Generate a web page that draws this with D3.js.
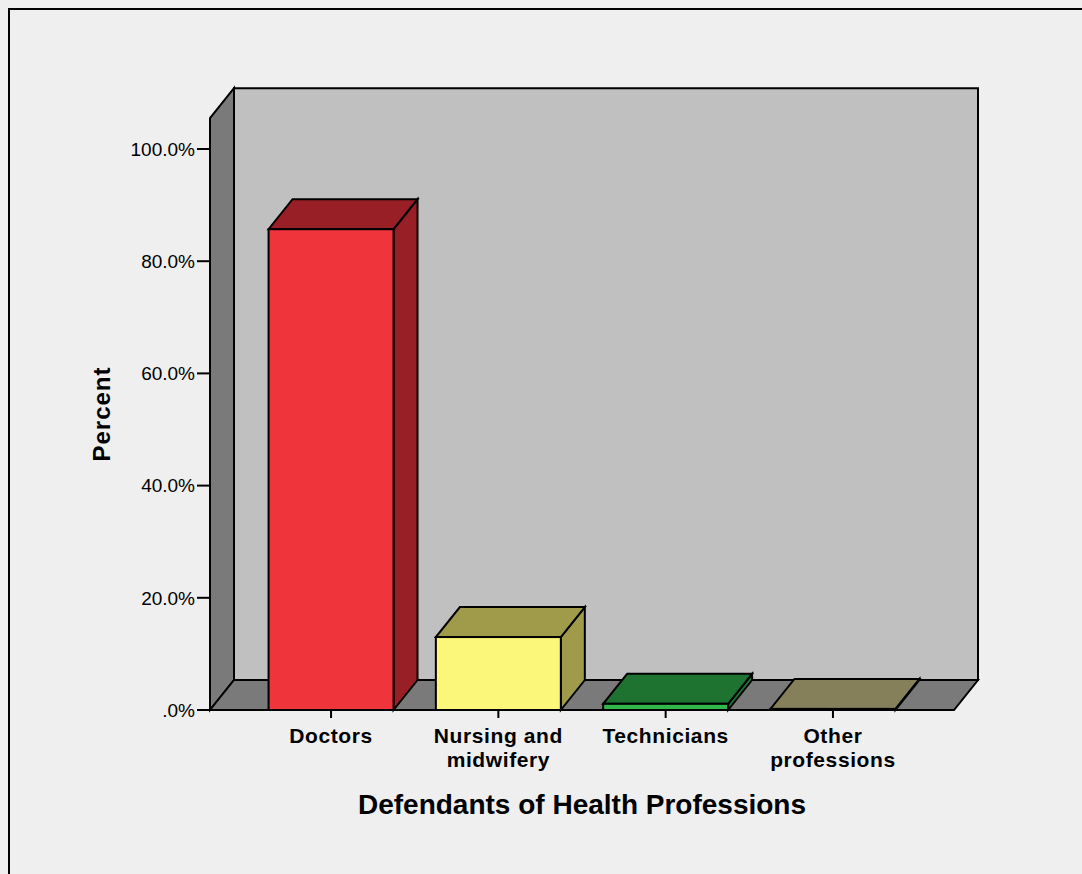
<!DOCTYPE html>
<meta charset="utf-8">
<head>
<style>
body { margin: 0; background: #efefef; }
text { font-family: "Liberation Sans", Arial, sans-serif; fill: #000; }
.tick-label { font-size: 19px; }
.cat-label { font-size: 21px; font-weight: bold; letter-spacing: 0.6px; }
.axis-title { font-weight: bold; }
</style>
</head>
<body>
<svg width="1082" height="874"></svg>

<script src="https://d3js.org/d3.v7.min.js"></script>
<script>
// chart data
const categories = ['Doctors', 'Nursing and midwifery', 'Technicians', 'Other professions'];
const categoryLines = [['Doctors'], ['Nursing and', 'midwifery'], ['Technicians'], ['Other', 'professions']];
const percents = [85.7, 13.0, 1.1, 0.2];
const frontColors = ['#f0343b', '#fbf77a', '#2fb94b', '#8a8660'];
const darkColors = ['#971f25', '#9f9b4b', '#1e7330', '#858059'];
const yTicks = [0, 20, 40, 60, 80, 100];
const yTickLabels = ['.0%', '20.0%', '40.0%', '60.0%', '80.0%', '100.0%'];

let svg = d3.select('svg');

// 3d depth offset
const dx = 24, dy = -30;
const left = 210, right = 954;

let x = d3.scaleBand()
    .domain(categories)
    .range([left, right])
    .paddingInner(0.253)
    .paddingOuter(0.35);

let y = d3.scaleLinear().domain([0, 100]).range([710, 149]);
const wallTop = 105.5;

// outer frame
svg.append('rect')
    .attr('x', 9).attr('y', 9)
    .attr('width', 1100).attr('height', 900)
    .attr('fill', '#efefef')
    .attr('stroke', '#000').attr('stroke-width', 2);

let line = d3.line();
const stroke = (sel, w) => sel.attr('stroke', '#000').attr('stroke-width', w || 2).attr('stroke-linejoin', 'miter');

// back wall
svg.append('path')
    .attr('d', line([[left + dx, y(0) + dy], [right + dx, y(0) + dy], [right + dx, y(wallTop) + dy], [left + dx, y(wallTop) + dy]]) + 'Z')
    .attr('fill', '#c0c0c0').call(stroke);

// left wall
svg.append('path')
    .attr('d', line([[left, y(0)], [left, y(wallTop)], [left + dx, y(wallTop) + dy], [left + dx, y(0) + dy]]) + 'Z')
    .attr('fill', '#7a7a7a').call(stroke);

// floor
svg.append('path')
    .attr('d', line([[left, y(0)], [right, y(0)], [right + dx, y(0) + dy], [left + dx, y(0) + dy]]) + 'Z')
    .attr('fill', '#7a7a7a').call(stroke);

// y axis ticks
let yAxis = svg.append('g');
yAxis.selectAll('line')
    .data(yTicks)
    .enter().append('line')
        .attr('x1', 197).attr('x2', left)
        .attr('y1', d => y(d)).attr('y2', d => y(d))
        .call(stroke);
yAxis.selectAll('text')
    .data(yTicks)
    .enter().append('text')
        .attr('class', 'tick-label')
        .attr('x', 195)
        .attr('y', d => y(d))
        .attr('dy', '0.36em')
        .attr('text-anchor', 'end')
        .text((d, i) => yTickLabels[i]);

// bars
let bars = svg.selectAll('.bar')
    .data(categories)
    .enter().append('g')
        .attr('class', 'bar');

bars.each(function(c, i) {
    let g = d3.select(this);
    let x0 = x(c), x1 = x(c) + x.bandwidth();
    let y0 = y(0), y1 = y(percents[i]);
    // right side
    g.append('path')
        .attr('d', line([[x1, y0], [x1, y1], [x1 + dx, y1 + dy], [x1 + dx, y0 + dy]]) + 'Z')
        .attr('fill', darkColors[i]).call(stroke);
    // top
    g.append('path')
        .attr('d', line([[x0, y1], [x1, y1], [x1 + dx, y1 + dy], [x0 + dx, y1 + dy]]) + 'Z')
        .attr('fill', darkColors[i]).call(stroke);
    // front
    g.append('rect')
        .attr('x', x0).attr('y', y1)
        .attr('width', x1 - x0).attr('height', y0 - y1)
        .attr('fill', frontColors[i]).call(stroke);
});

// x axis ticks and labels
let xAxis = svg.append('g');
xAxis.selectAll('line')
    .data(categories)
    .enter().append('line')
        .attr('x1', d => x(d) + x.bandwidth() / 2)
        .attr('x2', d => x(d) + x.bandwidth() / 2)
        .attr('y1', y(0)).attr('y2', y(0) + 8)
        .call(stroke);

xAxis.selectAll('text')
    .data(categories)
    .enter().append('text')
        .attr('class', 'cat-label')
        .attr('text-anchor', 'middle')
        .attr('y', 743)
        .each(function(d, i) {
            d3.select(this).selectAll('tspan')
                .data(categoryLines[i])
                .enter().append('tspan')
                    .attr('x', x(d) + x.bandwidth() / 2)
                    .attr('dy', (t, j) => j === 0 ? 0 : 24)
                    .text(t => t);
        });

// axis titles
svg.append('text')
    .attr('class', 'axis-title')
    .attr('x', 582).attr('y', 814)
    .attr('text-anchor', 'middle')
    .style('font-size', '28px')
    .text('Defendants of Health Professions');

svg.append('text')
    .attr('class', 'axis-title')
    .attr('transform', 'translate(110, 414) rotate(-90)')
    .attr('text-anchor', 'middle')
    .style('font-size', '24px')
    .style('letter-spacing', '1px')
    .text('Percent');
</script>
</body>
</html>
